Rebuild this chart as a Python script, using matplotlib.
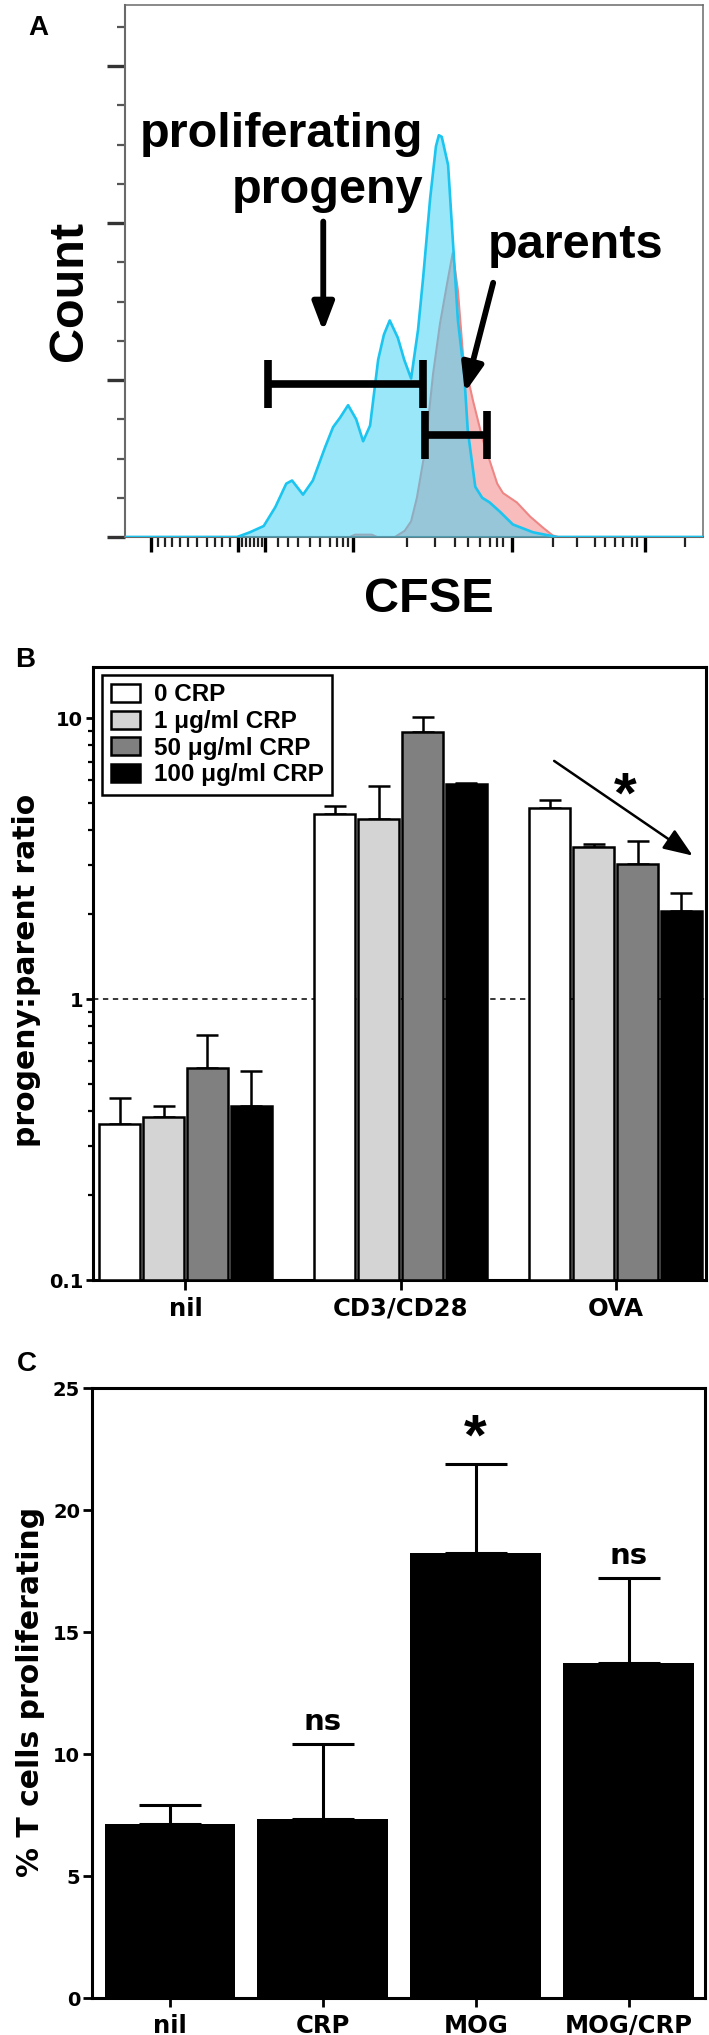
"""Three stacked panels: CFSE histogram (A), progeny:parent ratio bars (B),
% proliferating T cells bars (C).  Saves out.png at 709x2035."""

import matplotlib

matplotlib.use("Agg")
import matplotlib.pyplot as plt
import numpy as np
from matplotlib.ticker import FixedLocator, LogLocator, NullFormatter, FixedFormatter

W, H = 709, 2035
DPI = 100

plt.rcParams.update(
    {
        "font.family": ["Liberation Sans", "DejaVu Sans"],
        "font.weight": "bold",
        "axes.labelweight": "bold",
        "text.color": "black",
    }
)
WIDE = ["DejaVu Sans"]  # panels B and C use a wider face

# ---------------------------------------------------------------------------
# Data
# ---------------------------------------------------------------------------
# Panel A: CFSE histograms (channel 0-1000, count)
PROGENY_CH = [0, 194, 216, 240, 260, 279, 289, 308, 325, 346, 360, 372, 386, 400,
              412, 424, 438, 448, 458, 472, 483, 495, 507, 516, 528, 538, 543, 548,
              559, 566, 576, 587, 593, 606, 618, 631, 649, 671, 706, 747, 1000]
PROGENY_CT = [0, 0, 3, 7, 19, 34, 36, 27, 36, 57, 70, 76, 84, 75,
              61, 71, 113, 129, 138, 127, 113, 101, 132, 166, 216, 249, 256, 255,
              237, 196, 138, 103, 68, 32, 25, 22, 16, 8, 3, 0, 0]
PARENT_CH = [0, 389, 398, 427, 436, 467, 484, 495, 505, 519, 533, 545, 557, 567,
             576, 585, 602, 619, 644, 654, 678, 701, 723, 740, 750, 1000]
PARENT_CT = [0, 0, 1.5, 1.5, 0, 0, 4, 10, 25, 55, 104, 136, 161, 181,
             157, 115, 87, 62, 34, 28, 22, 13, 6, 1, 0, 0]

PROGENY_GATE = (247, 516)   # channel range
PARENT_GATE = (519, 626)

A_XMAJOR = [45, 196, 242, 395, 670, 900]
A_XMINOR = [57, 69, 81, 95, 109, 125, 142, 156, 168, 182, 202, 209, 216, 223, 230,
            237, 265, 282, 299, 320, 337, 355, 367, 377, 386, 488, 536, 571, 593,
            614, 631, 644, 654, 740, 782, 813, 830, 848, 862, 877, 886, 969]

# Panel B: progeny:parent ratio
B_GROUPS = ["nil", "CD3/CD28", "OVA"]
B_SERIES = ["0 CRP", "1 \u03bcg/ml CRP", "50 \u03bcg/ml CRP", "100 \u03bcg/ml CRP"]
B_MEAN = [
    [0.36, 4.55, 4.80],
    [0.38, 4.37, 3.47],
    [0.57, 8.90, 3.03],
    [0.415, 5.85, 2.05],
]
B_SEM = [
    [0.085, 0.33, 0.30],
    [0.037, 1.38, 0.10],
    [0.175, 1.15, 0.61],
    [0.14, 0.04, 0.34],
]
B_COLORS = ["white", "#d4d4d4", "#808080", "black"]

# Panel C: % T cells proliferating
C_GROUPS = ["nil", "CRP", "MOG", "MOG/CRP"]
C_MEAN = [7.15, 7.35, 18.25, 13.75]
C_SEM = [0.75, 3.05, 3.65, 3.45]
C_SIG = ["", "ns", "*", "ns"]


def fx(px):
    return px / W


def fy(py):
    return 1 - py / H


def box(left, top, right, bottom):
    return [fx(left), fy(bottom), (right - left) / W, (bottom - top) / H]


def wide_ticklabels(ax):
    for lab in ax.get_xticklabels() + ax.get_yticklabels():
        lab.set_family(WIDE)
        lab.set_fontweight("bold")


fig = plt.figure(figsize=(W / DPI, H / DPI), dpi=DPI, facecolor="white")

# ---------------------------------------------------------------------------
# Panel A
# ---------------------------------------------------------------------------
axA = fig.add_axes(box(125, 5, 703, 537))
axA.fill_between(PARENT_CH, PARENT_CT, color="#f8bcbc", lw=0, zorder=1)
axA.plot(PARENT_CH, PARENT_CT, color="#ef8686", lw=1.5, zorder=2)
axA.fill_between(PROGENY_CH, PROGENY_CT, color="#37d1f5", alpha=0.5, lw=0, zorder=3)
axA.plot(PROGENY_CH, PROGENY_CT, color="#1cc4f0", lw=1.9, zorder=4)
axA.set_xlim(0, 1000)
axA.set_ylim(0, 339)

for name, sp in axA.spines.items():
    sp.set_color("#6a6a6a")
    sp.set_linewidth(1.5 if name in ("left", "bottom") else 1.1)

axA.yaxis.set_major_locator(FixedLocator([0, 100, 200, 300]))
axA.yaxis.set_minor_locator(FixedLocator([25, 50, 75, 125, 150, 175, 225, 250, 275, 325]))
axA.xaxis.set_major_locator(FixedLocator(A_XMAJOR))
axA.xaxis.set_minor_locator(FixedLocator(A_XMINOR))
axA.xaxis.set_major_formatter(NullFormatter())
axA.yaxis.set_major_formatter(NullFormatter())
axA.tick_params(axis="y", which="major", length=13, width=2.4, color="#333333")
axA.tick_params(axis="y", which="minor", length=6, width=1.6, color="#555555")
axA.tick_params(axis="x", which="major", length=11, width=2.4, color="black")
axA.tick_params(axis="x", which="minor", length=7, width=1.6, color="#222222")

# gates
gate_lw = 5.5
y_prog, y_par = 97.5, 65
axA.hlines(y_prog, *PROGENY_GATE, color="black", lw=gate_lw, zorder=6)
axA.vlines(PROGENY_GATE, y_prog - 15, y_prog + 15, color="black", lw=gate_lw, zorder=6)
axA.hlines(y_par, *PARENT_GATE, color="black", lw=gate_lw, zorder=6)
axA.vlines(PARENT_GATE, y_par - 15, y_par + 15, color="black", lw=gate_lw, zorder=6)

arrow_kw = dict(arrowstyle="-|>,head_length=1.0,head_width=0.38", color="black",
                lw=4.2, shrinkA=0, shrinkB=0, mutation_scale=17)
axA.annotate("", xy=(343, 131), xytext=(343, 201), arrowprops=arrow_kw, zorder=7)
axA.annotate("", xy=(588, 92), xytext=(637, 162), arrowprops=arrow_kw, zorder=7)

fsA = 35
fig.text(fx(423), fy(147), "proliferating", ha="right", va="baseline", fontsize=fsA)
fig.text(fx(423), fy(203), "progeny", ha="right", va="baseline", fontsize=fsA)
fig.text(fx(488), fy(258), "parents", ha="left", va="baseline", fontsize=fsA)
fig.text(fx(70), fy(291), "Count", rotation=90, ha="center", va="center", fontsize=fsA)
fig.text(fx(429), fy(600), "CFSE", ha="center", va="center", fontsize=fsA)
fig.text(fx(38), fy(28), "A", ha="center", va="center", fontsize=20)

# ---------------------------------------------------------------------------
# Panel B
# ---------------------------------------------------------------------------
axB = fig.add_axes(box(93, 667, 706, 1280))
axB.set_yscale("log")
ymin_b = 0.1
axB.set_ylim(ymin_b, 15.2)
axB.set_xlim(-0.43, 2.42)
axB.axhline(1, color="black", lw=1.1, ls=(0, (3.5, 3)), zorder=0)

xg = np.arange(len(B_GROUPS))
slot = 0.204
for i, (lab, col) in enumerate(zip(B_SERIES, B_COLORS)):
    xs = xg + (i - 1.5) * slot
    means = np.array(B_MEAN[i])
    axB.errorbar(xs, means, yerr=[np.zeros_like(means), B_SEM[i]], fmt="none",
                 ecolor="black", elinewidth=1.8, capsize=8, capthick=1.8, zorder=2)
    axB.bar(xs, means - ymin_b, bottom=ymin_b, width=0.19, color=col,
            edgecolor="black", linewidth=1.8, label=lab, zorder=3)

for sp in axB.spines.values():
    sp.set_linewidth(2.2)
axB.yaxis.set_major_locator(FixedLocator([0.1, 1, 10]))
axB.yaxis.set_major_formatter(FixedFormatter(["0.1", "1", "10"]))
axB.yaxis.set_minor_locator(LogLocator(base=10, subs=np.arange(2, 10)))
axB.yaxis.set_minor_formatter(NullFormatter())
axB.set_xticks(xg)
axB.set_xticklabels(B_GROUPS)
axB.tick_params(axis="y", which="major", length=5, width=2, pad=2, labelsize=14)
axB.tick_params(axis="y", which="minor", length=3.5, width=1.6)
axB.tick_params(axis="x", length=7, width=2, pad=5, labelsize=17.5)
wide_ticklabels(axB)

leg = axB.legend(loc="upper left", bbox_to_anchor=(0.0147, 0.987), borderaxespad=0,
                 fontsize=17.5, frameon=True, fancybox=False, framealpha=1,
                 edgecolor="black", labelspacing=0.15, handlelength=1.23,
                 handleheight=0.75, handletextpad=0.55, borderpad=0.35)
leg.get_frame().set_linewidth(1.8)

axB.annotate("", xy=(2.358, 3.24), xytext=(1.714, 7.04),
             arrowprops=dict(arrowstyle="-|>,head_length=0.9,head_width=0.35",
                             color="black", lw=1.8, shrinkA=0, shrinkB=0,
                             mutation_scale=20))
axB.text(2.044, 5.2, "*", ha="center", va="center", fontsize=42)

fig.text(fx(27), fy(970), "progeny:parent ratio", rotation=90, ha="center",
         va="center", fontsize=21.5, family=WIDE)
fig.text(fx(25), fy(660), "B", ha="center", va="center", fontsize=20)

# ---------------------------------------------------------------------------
# Panel C
# ---------------------------------------------------------------------------
axC = fig.add_axes(box(92, 1388, 705, 1998))
xc = np.arange(len(C_GROUPS))
axC.errorbar(xc, C_MEAN, yerr=[np.zeros(len(C_MEAN)), C_SEM], fmt="none",
             ecolor="black", elinewidth=2.2, capsize=22, capthick=2.2, zorder=2)
axC.bar(xc, C_MEAN, width=0.855, color="black", zorder=3)
axC.set_xlim(-0.51, 3.5)
axC.set_ylim(0, 25)
for sp in axC.spines.values():
    sp.set_linewidth(2.2)
axC.set_yticks([0, 5, 10, 15, 20, 25])
axC.set_xticks(xc)
axC.set_xticklabels(C_GROUPS)
axC.tick_params(axis="y", length=6.5, width=2, pad=2, labelsize=14)
axC.tick_params(axis="x", length=6.5, width=2, pad=5, labelsize=17.5)
wide_ticklabels(axC)

for x, m, e, s in zip(xc, C_MEAN, C_SEM, C_SIG):
    if s == "ns":
        axC.text(x, m + e + 0.6, s, ha="center", va="baseline", fontsize=21,
                 family=WIDE)
    elif s == "*":
        axC.text(x, m + e + 1.0, s, ha="center", va="center", fontsize=42)

fig.text(fx(31), fy(1692), "% T cells proliferating", rotation=90, ha="center",
         va="center", fontsize=21.5, family=WIDE)
fig.text(fx(27), fy(1364), "C", ha="center", va="center", fontsize=20)

fig.savefig("out.png", dpi=DPI, facecolor="white")
